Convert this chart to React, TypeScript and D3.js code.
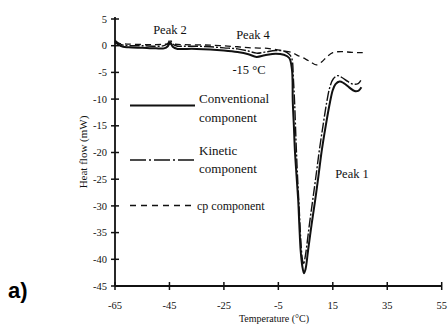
import React from "react";
import * as d3 from "d3";

const xTicks = [-65, -45, -25, -5, 15, 35, 55];
const yTicks = [5, 0, -5, -10, -15, -20, -25, -30, -35, -40, -45];

// Conventional component (solid)
const convT = [-65, -64, -62, -60, -55, -50, -47, -45.6, -44.8, -43.8, -42, -40, -35, -30, -25, -20, -16, -13, -10, -6, -3, -1, 0, 0.3, 0.7, 1.1, 1.7, 2.3, 2.7, 3.2, 3.8, 4.4, 5.0, 5.9, 7.2, 8.5, 9.7, 10.9, 12.4, 14, 15, 16, 17.5, 19, 21, 23, 24.5, 25.5];
const convV = [0.8, 0.3, -0.2, -0.3, -0.4, -0.5, -0.5, -0.1, 0.7, -0.2, -0.6, -0.6, -0.6, -0.7, -0.9, -1.2, -1.6, -2.1, -1.8, -1.5, -1.7, -2.3, -4.5, -10.5, -15, -19.8, -24.5, -29, -33.5, -38.4, -41.3, -42.6, -41.8, -38.4, -33.5, -29, -24.5, -19.8, -15, -10.5, -8.3, -7.2, -6.7, -7.0, -7.8, -8.5, -8.4, -7.8];

// Kinetic component (dash-dot)
const kinT = [-65, -64, -62, -60, -55, -50, -47, -45.6, -44.8, -43.8, -42, -40, -35, -30, -25, -20, -16, -13, -10, -6, -3, -1, 0, 0.5, 1, 1.5, 2, 2.6, 3.2, 3.7, 4.2, 4.7, 5.2, 6.4, 7.6, 8.8, 10, 11.4, 12.8, 14, 15.2, 16.8, 18.5, 20.5, 22.5, 24.3, 25.3];
const kinV = [1.0, 0.6, 0.1, 0.0, 0.0, -0.1, 0.0, 0.4, 1.1, 0.3, -0.1, -0.1, -0.1, -0.2, -0.4, -0.6, -1.0, -1.4, -1.2, -0.9, -1.0, -1.6, -2.5, -6, -11, -18, -24, -30, -36, -39.5, -41, -40, -38.4, -33.5, -29, -24.5, -19.8, -15, -10.5, -7.6, -6.2, -5.6, -6.0, -6.7, -7.2, -7.1, -6.5];

// cp component (dashed)
const cpT = [-65, -60, -50, -45, -40, -30, -20, -15, -9, -4, 0, 2, 5, 7, 9, 11, 13, 15, 18, 22, 26];
const cpV = [0.5, 0.3, 0.2, 0.3, 0.2, 0.1, -0.2, -0.4, -0.5, -0.9, -1.3, -1.8, -2.5, -3.1, -3.6, -3.0, -2.0, -1.3, -1.1, -1.25, -1.3];

const W = 448;
const H = 324;
const x = d3.scaleLinear().domain([-65, 55]).range([115, 441.7]);
const y = d3.scaleLinear().domain([-45, 5]).range([286, 19]);

const serif = "'Liberation Serif', 'DejaVu Serif', serif";

function toPts(t: number[], v: number[]): [number, number][] {
  return t.map((d, i) => [d, v[i]]);
}

const line = d3
  .line<[number, number]>()
  .x((d) => x(d[0]))
  .y((d) => y(d[1]))
  .curve(d3.curveCatmullRom.alpha(0.5));

export default function App() {
  const x0 = x(-65);
  const y0 = y(-45);
  return (
    <svg
      width={W}
      height={H}
      style={{ position: "absolute", left: 0, top: 0, background: "#fff" }}
    >
      <rect x={0} y={0} width={W} height={H} fill="#fff" />
      {/* axes */}
      <line x1={x0} x2={x0} y1={y(5) - 2} y2={y0} stroke="#111" strokeWidth={1.8} />
      <line x1={x0} x2={x(55)} y1={y0} y2={y0} stroke="#111" strokeWidth={1.8} />
      {yTicks.map((t) => (
        <g key={"y" + t}>
          <line x1={x0 - 4} x2={x0 + 4} y1={y(t)} y2={y(t)} stroke="#111" strokeWidth={1.5} />
          <text
            x={x0 - 8}
            y={y(t)}
            dy="0.35em"
            textAnchor="end"
            fontFamily={serif}
            fontSize={10.5}
            fill="#111"
          >
            {t}
          </text>
        </g>
      ))}
      {xTicks.map((t) => (
        <g key={"x" + t}>
          <line x1={x(t)} x2={x(t)} y1={y0 - 4} y2={y0 + 4} stroke="#111" strokeWidth={1.5} />
          <text
            x={x(t)}
            y={y0 + 19}
            dy="0.35em"
            textAnchor="middle"
            fontFamily={serif}
            fontSize={10.5}
            fill="#111"
          >
            {t}
          </text>
        </g>
      ))}
      <text
        x={274}
        y={322}
        textAnchor="middle"
        fontFamily={serif}
        fontSize={10}
        fill="#111"
      >
        Temperature (°C)
      </text>
      <text
        transform={`translate(87,152) rotate(-90)`}
        textAnchor="middle"
        fontFamily={serif}
        fontSize={11}
        fill="#111"
      >
        Heat flow (mW)
      </text>

      {/* curves */}
      <path d={line(toPts(cpT, cpV)) || ""} fill="none" stroke="#111" strokeWidth={1.3} strokeDasharray="6,4" />
      <path d={line(toPts(kinT, kinV)) || ""} fill="none" stroke="#111" strokeWidth={1.4} strokeDasharray="10,2,2,2" />
      <path d={line(toPts(convT, convV)) || ""} fill="none" stroke="#111" strokeWidth={2} />

      {/* annotations */}
      <text x={170} y={34} textAnchor="middle" fontFamily={serif} fontSize={12.5} fill="#111">Peak 2</text>
      <text x={253} y={39} textAnchor="middle" fontFamily={serif} fontSize={12.5} fill="#111">Peak 4</text>
      <text x={249} y={74} textAnchor="middle" fontFamily={serif} fontSize={12.5} fill="#111">-15 °C</text>
      <text x={352} y={178} textAnchor="middle" fontFamily={serif} fontSize={12.5} fill="#111">Peak 1</text>

      {/* legend */}
      <line x1={130} x2={195} y1={105.5} y2={105.5} stroke="#111" strokeWidth={1.8} />
      <text x={199} y={103} fontFamily={serif} fontSize={13} fill="#111">Conventional</text>
      <text x={199} y={122} fontFamily={serif} fontSize={13} fill="#111">component</text>

      <line x1={130} x2={195} y1={160} y2={160} stroke="#111" strokeWidth={1.6} strokeDasharray="16,3,2,3" />
      <text x={199} y={155} fontFamily={serif} fontSize={13} fill="#111">Kinetic</text>
      <text x={199} y={173} fontFamily={serif} fontSize={13} fill="#111">component</text>

      <line x1={130} x2={196} y1={205.5} y2={205.5} stroke="#111" strokeWidth={1.3} strokeDasharray="6,5" />
      <text x={197} y={209.5} fontFamily={serif} fontSize={12} fill="#111">cp component</text>

      <text
        x={8}
        y={298}
        fontFamily="'Liberation Sans', Arial, sans-serif"
        fontWeight="bold"
        fontSize={22}
        fill="#000"
      >
        a)
      </text>
    </svg>
  );
}
